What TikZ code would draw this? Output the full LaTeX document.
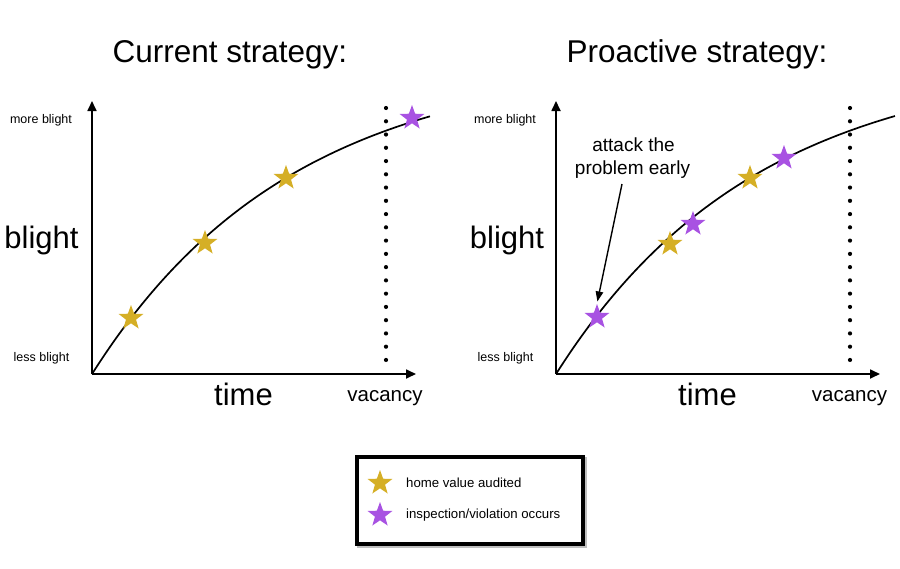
\documentclass[tikz,border=0pt]{standalone}
\usepackage{fontspec}
\setmainfont{Liberation Sans}
\usetikzlibrary{shapes.geometric,arrows.meta}
\definecolor{goldstar}{RGB}{213,175,38}
\definecolor{purplestar}{RGB}{168,82,226}
\begin{document}
\begin{tikzpicture}[x=1pt,y=-1pt,
 starnode/.style={star,star points=5,star point ratio=2.45,minimum size=26pt,inner sep=0pt,draw=none},
 gstar/.style={starnode,fill=goldstar},
 pstar/.style={starnode,fill=purplestar},
 axisline/.style={line width=1.7pt,-{Triangle[length=10pt,width=9pt]}},
 curveline/.style={line width=1.7pt},
 dotline/.style={line width=4.2pt,line cap=round,dash pattern=on 0pt off 13.26pt},
 txt/.style={anchor=base,inner sep=0pt},
 titletxt/.style={txt,font=\fontsize{31.5}{36}\selectfont},
 bigtxt/.style={txt,font=\fontsize{31}{36}\selectfont},
 smalltxt/.style={txt,font=\fontsize{12.5}{15}\selectfont},
 vactxt/.style={txt,font=\fontsize{20.5}{24}\selectfont},
 annottxt/.style={txt,font=\fontsize{19}{22}\selectfont},
 legtxt/.style={anchor=base west,inner sep=0pt,font=\fontsize{13.2}{16}\selectfont},
]
\useasboundingbox (0,0) rectangle (900,568);

% titles
\node[titletxt] (t1) at (230,62) {Current strategy:};
\node[titletxt] (t2) at (697,62) {Proactive strategy:};

% ---------- left panel ----------
\coordinate (O1) at (92,374);
\coordinate (Y1) at (92,101);
\coordinate (X1) at (416,374);
\draw[axisline] (O1) -- (Y1);
\draw[axisline] (O1) -- (X1);
\draw[dotline] (386,108) -- (386,361);
\draw[curveline] plot[domain=0:338,samples=80,smooth] ({92+\x},{374-316*(1-exp(-\x/200))});

\node[smalltxt] (mb1) at (41,123) {more blight};
\node[smalltxt] (lb1) at (41.5,361.7) {less blight};
\node[bigtxt] (bl1) at (41.5,248.3) {blight};
\node[bigtxt] (tm1) at (243.5,405.7) {time};
\node[vactxt] (vc1) at (385,401.7) {vacancy};

\node[gstar] (a1) at (131,318) {};
\node[gstar] (a2) at (205,243) {};
\node[gstar] (a3) at (286,178) {};
\node[pstar] (a4) at (412,118) {};

% ---------- right panel ----------
\coordinate (O2) at (556,374);
\coordinate (Y2) at (556,101);
\coordinate (X2) at (880,374);
\draw[axisline] (O2) -- (Y2);
\draw[axisline] (O2) -- (X2);
\draw[dotline] (850,108) -- (850,361);
\draw[curveline] plot[domain=0:339,samples=80,smooth] ({556+\x},{374-316*(1-exp(-\x/200))});

\node[smalltxt] (mb2) at (505,123) {more blight};
\node[smalltxt] (lb2) at (505.5,361.7) {less blight};
\node[bigtxt] (bl2) at (507,248.3) {blight};
\node[bigtxt] (tm2) at (707.5,405.7) {time};
\node[vactxt] (vc2) at (849.5,401.7) {vacancy};

\node[pstar] (p1) at (597,317) {};
\node[gstar] (p2) at (670,244) {};
\node[pstar] (p3) at (693,224) {};
\node[gstar] (p4) at (750,178) {};
\node[pstar] (p5) at (784,158) {};

\node[annottxt] (at1) at (633.5,151.7) {attack the};
\node[annottxt] (at2) at (632.5,174.3) {problem early};
\coordinate (arrstart) at (622,184);
\draw[line width=1.4pt,-{Triangle[length=10pt,width=7.5pt]},shorten >=2pt] (arrstart) -- (p1.north);

% ---------- legend ----------
\node[draw=black!25,line width=4pt,minimum width=226pt,minimum height=87pt,inner sep=0pt] (legshadow) at (471.5,502.5) {};
\node[draw=black,fill=white,line width=4pt,minimum width=226pt,minimum height=87pt,inner sep=0pt] (legend) at (470,500.5) {};
\node[gstar] (lg1) at (380,483) {};
\node[pstar] (lg2) at (380,515) {};
\node[legtxt] (lt1) at (406,487.3) {home value audited};
\node[legtxt] (lt2) at (406,518.3) {inspection/violation occurs};
\end{tikzpicture}
\end{document}
